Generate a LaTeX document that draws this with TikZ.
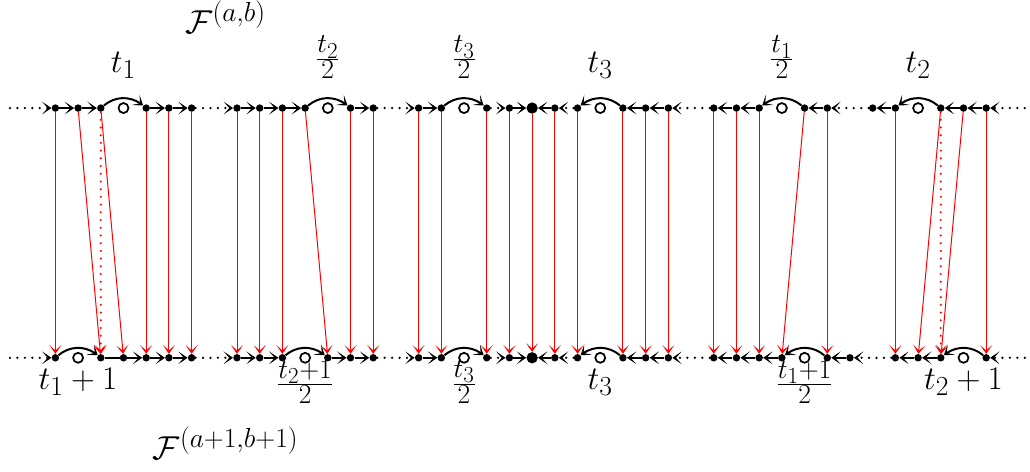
\documentclass[tikz,border=0pt]{standalone}
\usetikzlibrary{arrows.meta,bending}

\tikzset{
  pt/.style={circle, fill=black, inner sep=0pt, minimum size=5.6pt},
  bigpt/.style={circle, fill=black, inner sep=0pt, minimum size=8.5pt},
  hole/.style={circle, draw=black, line width=1.3pt, fill=white, inner sep=0pt, minimum size=7.5pt},
  blacktip/.tip={Stealth[length=7pt,width=9.5pt,inset=4.2pt]},
  redtip/.tip={Stealth[length=6.5pt,width=9pt,inset=4pt]},
  flow/.style={line width=1.5pt, -blacktip},
  plain/.style={line width=1.5pt},
  gap/.style={line width=1.9pt, line cap=round, dash pattern=on 0pt off 5.6pt, -blacktip},
  edge/.style={red, line width=0.75pt, -redtip},
  edgedot/.style={red, line width=1.7pt, line cap=round, dash pattern=on 0pt off 5.8pt, -redtip},
  lab/.style={inner sep=0pt, font=\Huge},
}

\begin{document}
\begin{tikzpicture}[x=0.6cm, y=0.6cm]
\useasboundingbox (-23.44,-16.03) rectangle (21.93,4.76);

% ---- upper line: points, holes, open ends
\foreach \i in {-21,-20,-19,-17,-16,-15,-13,-12,-11,-10,-8,-7,-5,-4,-2,-1,1,2,4,5,6,8,9,10,12,13,15,16,18,19,20}
  \node[pt] (T\i) at (\i,0) {};
\node[bigpt] (T0) at (0,0) {};
\foreach \i in {-18,-9,-3,3,11,17}
  \node[hole] (TC\i) at (\i,0) {};
\coordinate (TL) at (-23,0);
\coordinate (TR) at (21.7,0);

% ---- lower line
\foreach \i in {-21,-19,-18,-17,-16,-15,-13,-12,-11,-9,-8,-7,-5,-4,-2,-1,1,2,4,5,6,8,9,10,11,13,14,16,17,18,20}
  \node[pt] (B\i) at (\i,-11) {};
\node[bigpt] (B0) at (0,-11) {};
\foreach \i in {-20,-10,-3,3,12,19}
  \node[hole] (BC\i) at (\i,-11) {};
\coordinate (BL) at (-23,-11);
\coordinate (BR) at (21.7,-11);

% ---- upper line: flow
\draw[gap]  (TL) -- (T-21);
\draw[flow] (T-21) -- (T-20);
\draw[flow] (T-20) -- (T-19);
\draw[flow] (T-19) to[bend left=40] (T-17);
\draw[flow] (T-17) -- (T-16);
\draw[flow] (T-16) -- (T-15);
\draw[gap]  (T-15) -- (T-13);
\draw[flow] (T-13) -- (T-12);
\draw[flow] (T-12) -- (T-11);
\draw[flow] (T-11) -- (T-10);
\draw[flow] (T-10) to[bend left=40] (T-8);
\draw[flow] (T-8) -- (T-7);
\draw[gap]  (T-7) -- (T-5);
\draw[flow] (T-5) -- (T-4);
\draw[flow] (T-4) to[bend left=40] (T-2);
\draw[gap]  (T-2) -- (T-1);
\draw[flow] (T-1) -- (T0);
\draw[flow] (T1) -- (T0);
\draw[gap]  (T2) -- (T1);
\draw[flow] (T4) to[bend right=40] (T2);
\draw[flow] (T5) -- (T4);
\draw[flow] (T6) -- (T5);
\draw[gap]  (T8) -- (T6);
\draw[flow] (T9) -- (T8);
\draw[flow] (T10) -- (T9);
\draw[flow] (T12) to[bend right=40] (T10);
\draw[flow] (T13) -- (T12);
\draw[gap]  (T15) -- (T13);
\draw[flow] (T16) -- (T15);
\draw[flow] (T18) to[bend right=40] (T16);
\draw[flow] (T19) -- (T18);
\draw[flow] (T20) -- (T19);
\draw[gap]  (TR) -- (T20);

% ---- lower line: flow
\draw[gap]  (BL) -- (B-21);
\draw[flow] (B-21) to[bend left=40] (B-19);
\draw[plain] (B-19) -- (B-18);
\draw[flow] (B-18) -- (B-17);
\draw[flow] (B-17) -- (B-16);
\draw[flow] (B-16) -- (B-15);
\draw[gap]  (B-15) -- (B-13);
\draw[flow] (B-13) -- (B-12);
\draw[flow] (B-12) -- (B-11);
\draw[flow] (B-11) to[bend left=40] (B-9);
\draw[flow] (B-9) -- (B-8);
\draw[flow] (B-8) -- (B-7);
\draw[gap]  (B-7) -- (B-5);
\draw[flow] (B-5) -- (B-4);
\draw[flow] (B-4) to[bend left=40] (B-2);
\draw[gap]  (B-2) -- (B-1);
\draw[flow] (B-1) -- (B0);
\draw[flow] (B1) -- (B0);
\draw[gap]  (B2) -- (B1);
\draw[flow] (B4) to[bend right=40] (B2);
\draw[flow] (B5) -- (B4);
\draw[flow] (B6) -- (B5);
\draw[gap]  (B8) -- (B6);
\draw[flow] (B9) -- (B8);
\draw[flow] (B10) -- (B9);
\draw[flow] (B11) -- (B10);
\draw[flow] (B13) to[bend right=40] (B11);
\draw[flow] (B14) -- (B13);
\draw[gap]  (B16) -- (B14);
\draw[flow] (B17) -- (B16);
\draw[flow] (B18) -- (B17);
\draw[flow] (B20) to[bend right=40] (B18);
\draw[gap]  (BR) -- (B20);

% ---- correspondence between the two lines
\foreach \i in {-21,-17,-16,-15,-13,-12,-11,-8,-7,-5,-4,-2,-1,0,1,2,4,5,6,8,9,10,13,16,20}
  \draw[edge] (T\i) -- (B\i);
\draw[edge] (T-20) -- (B-19);
\draw[edge] (T-19) -- (B-18);
\draw[edgedot] (T-19) -- (B-19);
\draw[edge] (T-10) -- (B-9);
\draw[edge] (T12) -- (B11);
\draw[edge] (T18) -- (B17);
\draw[edge] (T19) -- (B18);
\draw[edgedot] (T18) -- (B18);

% ---- labels
\node[lab, anchor=south] (lt1)  at (-18,1.28) {$t_1$};
\node[lab, anchor=south] (lt2h) at (-9,1.28)  {$\frac{t_2}{2}$};
\node[lab, anchor=south] (lt3h) at (-3,1.28)  {$\frac{t_3}{2}$};
\node[lab, anchor=south] (lt3)  at (3,1.28)   {$t_3$};
\node[lab, anchor=south] (lt1h) at (11,1.28)  {$\frac{t_1}{2}$};
\node[lab, anchor=south] (lt2)  at (17,1.28)  {$t_2$};

\node[lab] (mt1)  at (-20,-12.07) {$t_1+1$};
\node[lab] (mt2h) at (-10,-12.07) {$\frac{t_2+1}{2}$};
\node[lab] (mt3h) at (-3,-12.07)  {$\frac{t_3}{2}$};
\node[lab] (mt3)  at (3,-12.07)   {$t_3$};
\node[lab] (mt1h) at (12,-12.07)  {$\frac{t_1+1}{2}$};
\node[lab] (mt2)  at (19,-12.07)  {$t_2+1$};

\node[lab] (Fup)   at (-13.5,4.0)    {$\mathcal{F}^{(a,b)}$};
\node[lab] (Fdown) at (-13.5,-14.76) {$\mathcal{F}^{(a+1,b+1)}$};
\end{tikzpicture}
\end{document}
